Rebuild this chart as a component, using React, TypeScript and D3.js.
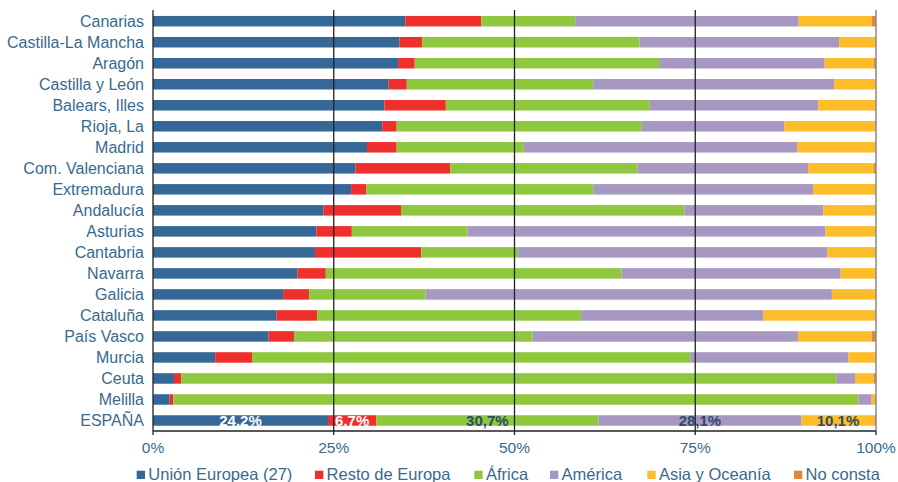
import React from "react";
import * as d3 from "d3";

const categories = ["Canarias","Castilla-La Mancha","Aragón","Castilla y León","Balears, Illes","Rioja, La","Madrid","Com. Valenciana","Extremadura","Andalucía","Asturias","Cantabria","Navarra","Galicia","Cataluña","País Vasco","Murcia","Ceuta","Melilla","ESPAÑA"];
const seriesNames = ["Unión Europea (27)","Resto de Europa","África","América","Asia y Oceanía","No consta"];
const colors = ["#366897","#ee2f2c","#8fc73e","#a798c1","#fdbd2b","#dd8740"];

const unionEuropea = [34.9,34.1,33.9,32.6,32.0,31.7,29.6,28.0,27.4,23.6,22.6,22.4,20.0,18.0,17.1,16.0,8.6,2.9,2.3,24.2];
const restoEuropa =  [10.5,3.1,2.3,2.5,8.5,2.0,4.1,13.1,2.1,10.7,4.9,14.7,3.9,3.6,5.6,3.5,5.1,1.0,0.5,6.7];
const africa =       [13.0,30.1,33.8,25.8,28.2,33.9,17.6,25.9,31.4,39.2,16.0,13.4,40.9,16.1,36.5,33.0,60.6,90.6,94.8,30.7];
const america =      [30.9,27.6,22.9,33.3,23.3,19.7,37.8,23.6,30.4,19.2,49.5,42.8,30.3,56.2,25.2,36.7,21.9,2.6,1.8,28.1];
const asiaOceania =  [10.1,5.1,6.8,5.8,8.0,12.7,10.9,9.1,8.7,7.3,7.0,6.7,4.9,6.1,15.6,10.2,3.8,2.6,0.6,10.1];
const noConsta =     [0.6,0.0,0.3,0.0,0.0,0.0,0.0,0.3,0.0,0.0,0.0,0.0,0.0,0.0,0.0,0.6,0.0,0.3,0.0,0.2];

const espanaLabels = ["24.2%","6.7%","30,7%","28,1%","10,1%"];
const ticks = [0, 25, 50, 75, 100];

const series = [unionEuropea, restoEuropa, africa, america, asiaOceania, noConsta];

export default function App() {
  const W = 898, H = 482;
  const axisY = 431;
  const x = d3.scaleLinear().domain([0, 100]).range([153, 876]);
  const y = d3.scaleBand<string>().domain(categories).range([10.7, axisY]).paddingInner(0.5).paddingOuter(0.25);
  const textColor = "#386a8e";
  const font = "'Liberation Sans', Arial, sans-serif";

  const rows = categories.map((c, i) => {
    let acc = 0;
    return series.map((s, k) => {
      const x0 = acc;
      acc += s[i];
      return { k, x0, x1: acc, v: s[i] };
    });
  });

  const legendX = [136.7, 315, 474.3, 550, 647.3, 794];

  return (
    <svg width={W} height={H} style={{ position: "absolute", left: 0, top: 0, fontFamily: font }}>
      <rect x={0} y={0} width={W} height={H} fill="#fff" />
      {categories.map((c, i) => (
        <g key={c}>
          {rows[i].map((seg) => seg.v > 0 && (
            <rect key={seg.k} x={x(seg.x0)} y={y(c)!} width={x(seg.x1) - x(seg.x0)} height={y.bandwidth()} fill={colors[seg.k]} />
          ))}
          <text x={144} y={y(c)! + y.bandwidth() / 2} dy="0.36em" textAnchor="end" fontSize={16} fill={textColor}>{c}</text>
        </g>
      ))}
      {[25, 50, 75].map((t) => (
        <line key={t} x1={x(t)} x2={x(t)} y1={10} y2={axisY} stroke="#222" strokeWidth={1.3} />
      ))}
      <line x1={x(100)} x2={x(100)} y1={10} y2={axisY} stroke="#888" strokeWidth={1.5} />
      <line x1={x(0)} x2={x(0)} y1={10} y2={axisY} stroke="#222" strokeWidth={1.3} />
      <line x1={x(0)} x2={x(100)} y1={axisY} y2={axisY} stroke="#222" strokeWidth={1.3} />
      {ticks.map((t) => (
        <g key={t}>
          <line x1={x(t)} x2={x(t)} y1={axisY} y2={axisY + 4} stroke="#222" strokeWidth={1.3} />
          <text x={x(t)} y={448} dy="0.35em" textAnchor="middle" fontSize={15.5} fill={textColor}>{t}%</text>
        </g>
      ))}
      {rows[categories.length - 1].slice(0, 5).map((seg, k) => (
        <text key={k} x={(x(seg.x0) + x(seg.x1)) / 2} y={y("ESPAÑA")! + y.bandwidth() / 2 + 0.5} dy="0.36em" textAnchor="middle" fontSize={15} fontWeight="bold" fill={k < 2 ? "#fff" : "#2d4a6c"}>{espanaLabels[k]}</text>
      ))}
      {seriesNames.map((n, k) => (
        <g key={n}>
          <rect x={legendX[k]} y={470.7} width={8.3} height={8.3} fill={colors[k]} />
          <text x={legendX[k] + 11.6} y={479.5} fontSize={16.5} fill={textColor}>{n}</text>
        </g>
      ))}
    </svg>
  );
}
